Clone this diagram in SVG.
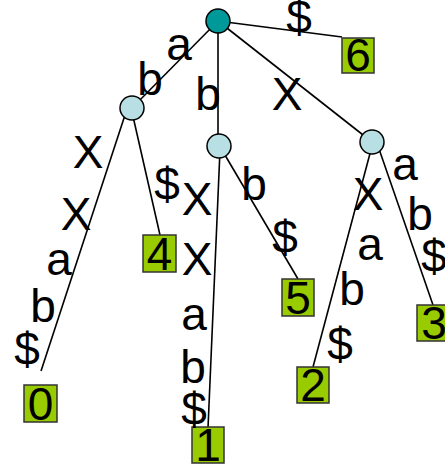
<svg xmlns="http://www.w3.org/2000/svg" width="445" height="464" viewBox="0 0 445 464">
<style>
.e{stroke:#000;stroke-width:1.6;fill:none}
.root{fill:#009999;stroke:#000;stroke-width:1.5}
.in{fill:#b8dfe3;stroke:#000;stroke-width:1.5}
.leaf rect{fill:#99cc00;stroke:#333;stroke-width:1.5}
text{font-family:"Liberation Sans",Arial,sans-serif;font-size:46px;fill:#000;text-anchor:middle}
</style>
<rect width="445" height="464" fill="#fff"/>
<g id="connectors">
<line class="e" x1="218" y1="21" x2="342" y2="37"/>
<line class="e" x1="218" y1="21" x2="132" y2="108"/>
<line class="e" x1="218" y1="21" x2="218" y2="146"/>
<line class="e" x1="218" y1="21" x2="372" y2="142"/>
<line class="e" x1="126" y1="112" x2="41" y2="371"/>
<line class="e" x1="132" y1="112" x2="160" y2="235"/>
<line class="e" x1="220" y1="150" x2="208" y2="428"/>
<line class="e" x1="222" y1="150" x2="298" y2="279"/>
<line class="e" x1="372" y1="146" x2="313" y2="367"/>
<line class="e" x1="378" y1="146" x2="433" y2="305"/>
</g>
<g id="n-root"><circle class="root" cx="218" cy="21" r="12"/></g>
<g id="n-a"><circle class="in" cx="132" cy="108" r="12"/></g>
<g id="n-b"><circle class="in" cx="219" cy="146" r="12"/></g>
<g id="n-x"><circle class="in" cx="372" cy="142" r="12"/></g>
<g id="leaf6" class="leaf"><rect x="342" y="38" width="32" height="35"/><text x="358" y="71">6</text></g>
<g id="leaf4" class="leaf"><rect x="143" y="235" width="33" height="37"/><text x="159.5" y="270">4</text></g>
<g id="leaf0" class="leaf"><rect x="24" y="385" width="33" height="37"/><text x="40.5" y="420">0</text></g>
<g id="leaf1" class="leaf"><rect x="192" y="427" width="32" height="36"/><text x="208" y="461">1</text></g>
<g id="leaf5" class="leaf"><rect x="282" y="279" width="32" height="37"/><text x="298" y="314">5</text></g>
<g id="leaf2" class="leaf"><rect x="297" y="367" width="32" height="36"/><text x="313" y="401">2</text></g>
<g id="leaf3" class="leaf"><rect x="417" y="305" width="34" height="36"/><text x="434" y="339">3</text></g>
<g id="labels">
<text x="179" y="60">a</text>
<text x="150" y="95">b</text>
<text x="208" y="110">b</text>
<text x="287" y="110">X</text>
<text x="299" y="33">$</text>
<text x="88" y="168">X</text>
<text x="76" y="230">X</text>
<text x="59" y="275">a</text>
<text x="43" y="322">b</text>
<text x="27" y="365">$</text>
<text x="167" y="200">$</text>
<text x="197" y="215">X</text>
<text x="197" y="275">X</text>
<text x="194" y="330">a</text>
<text x="193" y="383">b</text>
<text x="194" y="425">$</text>
<text x="254" y="200">b</text>
<text x="285" y="253">$</text>
<text x="368" y="210">X</text>
<text x="405" y="180">a</text>
<text x="420" y="230">b</text>
<text x="434" y="272">$</text>
<text x="370" y="260">a</text>
<text x="352" y="305">b</text>
<text x="340" y="360">$</text>
</g>
</svg>
